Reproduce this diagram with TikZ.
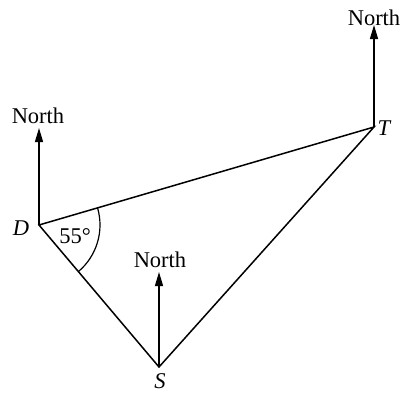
\documentclass[tikz,border=0pt]{standalone}
\usepackage{fontspec}
\setmainfont{Liberation Serif}
\usetikzlibrary{arrows.meta,calc}
\begin{document}
\begin{tikzpicture}[x=1pt,y=-1pt,
  seg/.style={line width=1.5pt},
  northarrow/.style={line width=1.3pt,-{Triangle[length=14pt,width=8pt]}},
  lbl/.style={font=\fontsize{22.5}{26}\selectfont, inner sep=0pt},
  ptlbl/.style={font=\fontsize{22.5}{26}\selectfont\itshape, inner sep=0pt}]
\useasboundingbox (0,0) rectangle (402,394);
\coordinate (D) at (39,225);
\coordinate (T) at (374,127);
\coordinate (S) at (159,367);
\coordinate (DN) at (39,128);
\coordinate (TN) at (374,25);
\coordinate (SN) at (159,272);
\draw[seg] (D) -- (T) -- (S) -- cycle;
\draw[northarrow] (D) -- (DN);
\draw[northarrow] (T) -- (TN);
\draw[northarrow] (S) -- (SN);
\node[lbl] (nD) at (38,116) {North};
\node[lbl] (nT) at (374,18) {North};
\node[lbl] (nS) at (160,260) {North};
\node[ptlbl] (lD) at (21,228) {D};
\node[ptlbl] (lT) at (384,128) {T};
\node[ptlbl] (lS) at (160,381) {S};
\draw[line width=1.2pt] ($(D)+(-16.3:61)$) arc[start angle=-16.3, end angle=49.8, radius=61];
\node[lbl] (ang) at (75,236) {55°};
\end{tikzpicture}
\end{document}
